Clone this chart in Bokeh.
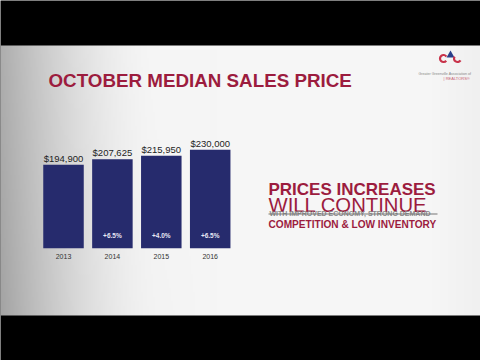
import numpy as np
from bokeh.plotting import figure
from bokeh.models import Range1d
from bokeh.core.properties import value
from bokeh.embed import file_html
from bokeh.resources import INLINE

years = ["2013", "2014", "2015", "2016"]
prices = [194900, 207625, 215950, 230000]
price_labels = ["$194,900", "$207,625", "$215,950", "$230,000"]
pct_labels = ["", "+6.5%", "+4.0%", "+6.5%"]

W, H = 480, 360
p = figure(width=W, height=H, x_range=Range1d(0, W), y_range=Range1d(0, H),
           output_backend="svg", toolbar_location=None, min_border=0)
p.axis.visible = False
p.grid.visible = False
p.outline_line_color = None
p.background_fill_color = "black"
p.border_fill_color = "black"

# background vignette (content area y from 45 to 315 px from top)
top, bot = 45, 315
nx, ny = 240, 60
xs = np.linspace(0, 1, nx)
ys = np.linspace(0, 1, ny)
X, Y = np.meshgrid(xs, ys)
g = 246 - 72 * np.clip(1 - X / 0.33, 0, 1) ** 1.7 - 6 * np.clip((X - 0.9) / 0.1, 0, 1) \
    - 10 * (1 - Y) * np.clip(1 - X / 0.45, 0, 1)
g = np.clip(g, 0, 255).astype(np.uint32)
img = (255 << 24) | (g << 16) | (g << 8) | g
p.image_rgba(image=[img.astype(np.uint32)], x=0, y=H - bot, dw=W, dh=bot - top)

# bar ranges: index spacing 48.9 px, first centre at x=63; value 0 at 247.7 px from top
spacing = 48.9
per_px = 2337.0
zero_from_bottom = H - 247.7
p.extra_x_ranges = {"bx": Range1d(-63 / spacing, (W - 63) / spacing)}
p.extra_y_ranges = {"by": Range1d(-zero_from_bottom * per_px, (H - zero_from_bottom) * per_px)}

idx = list(range(len(years)))
navy = "#262b6d"
crimson = "#9c1c3e"
p.vbar(x=idx, top=prices, bottom=0, width=40.5 / spacing, fill_color=navy, line_color=None,
       x_range_name="bx", y_range_name="by")
p.text(x=idx, y=prices, text=price_labels, x_range_name="bx", y_range_name="by",
       text_align="center", text_baseline="bottom", y_offset=-1,
       text_font=value("Liberation Sans"), text_font_size="9.5px", text_color="#1e1e1e")
p.text(x=idx, y=[0] * 4, text=pct_labels, x_range_name="bx", y_range_name="by",
       text_align="center", text_baseline="middle", y_offset=-12.5,
       text_font=value("Liberation Sans"), text_font_style="bold", text_font_size="6.5px",
       text_color="#e8e8f4")
p.text(x=idx, y=[0] * 4, text=years, x_range_name="bx", y_range_name="by",
       text_align="center", text_baseline="middle", y_offset=8.5,
       text_font=value("Liberation Sans"), text_font_size="7px", text_color="#333333")

# title
p.text(x=[48], y=[H - 79.5], text=["OCTOBER MEDIAN SALES PRICE"], text_align="left",
       text_baseline="middle", text_font=value("Liberation Sans"), text_font_style="bold",
       text_font_size="18.8px", text_color=crimson)

# right side message
p.text(x=[268], y=[H - 189], text=["PRICES INCREASES"], text_align="left", text_baseline="middle",
       text_font=value("Liberation Sans"), text_font_style="bold", text_font_size="17px",
       text_color=crimson)
p.text(x=[268], y=[H - 204], text=["WILL CONTINUE"], text_align="left", text_baseline="middle",
       text_font=value("Liberation Sans"), text_font_size="20.3px", text_color=crimson)
p.text(x=[269], y=[H - 213], text=["WITH IMPROVED ECONOMY, STRONG DEMAND"], text_align="left",
       text_baseline="middle", text_font=value("Liberation Sans"), text_font_style="bold",
       text_font_size="7px", text_color="#8a8a8a")
p.segment(x0=[268], y0=[H - 213.5], x1=[437], y1=[H - 213.5], line_color="#777777", line_width=1.2)
p.text(x=[268], y=[H - 223.5], text=["COMPETITION & LOW INVENTORY"], text_align="left",
       text_baseline="middle", text_font=value("Liberation Sans"), text_font_style="bold",
       text_font_size="10.1px", text_color=crimson)

# logo
p.patch(x=[446, 450, 454], y=[H - 57, H - 50, H - 57], fill_color="#2a3f8a", line_color=None)
p.arc(x=[443, 457], y=[H - 58, H - 58], radius=3.5, start_angle=[0.6, 3.14 + 0.6 - 1.2],
      end_angle=[5.7 - 0.1, 3.14 + 2.6], line_color="#c8324a", line_width=2.2)
p.text(x=[418], y=[H - 73.5], text=["Greater Greenville Association of"], text_align="left",
       text_baseline="middle", text_font=value("Liberation Sans"), text_font_size="3.6px",
       text_color="#888888")
p.text(x=[443], y=[H - 78], text=["| REALTORS®"], text_align="left", text_baseline="middle",
       text_font=value("Liberation Sans"), text_font_size="4px", text_color="#c86070")

open("out.html", "w").write(file_html(p, INLINE))
